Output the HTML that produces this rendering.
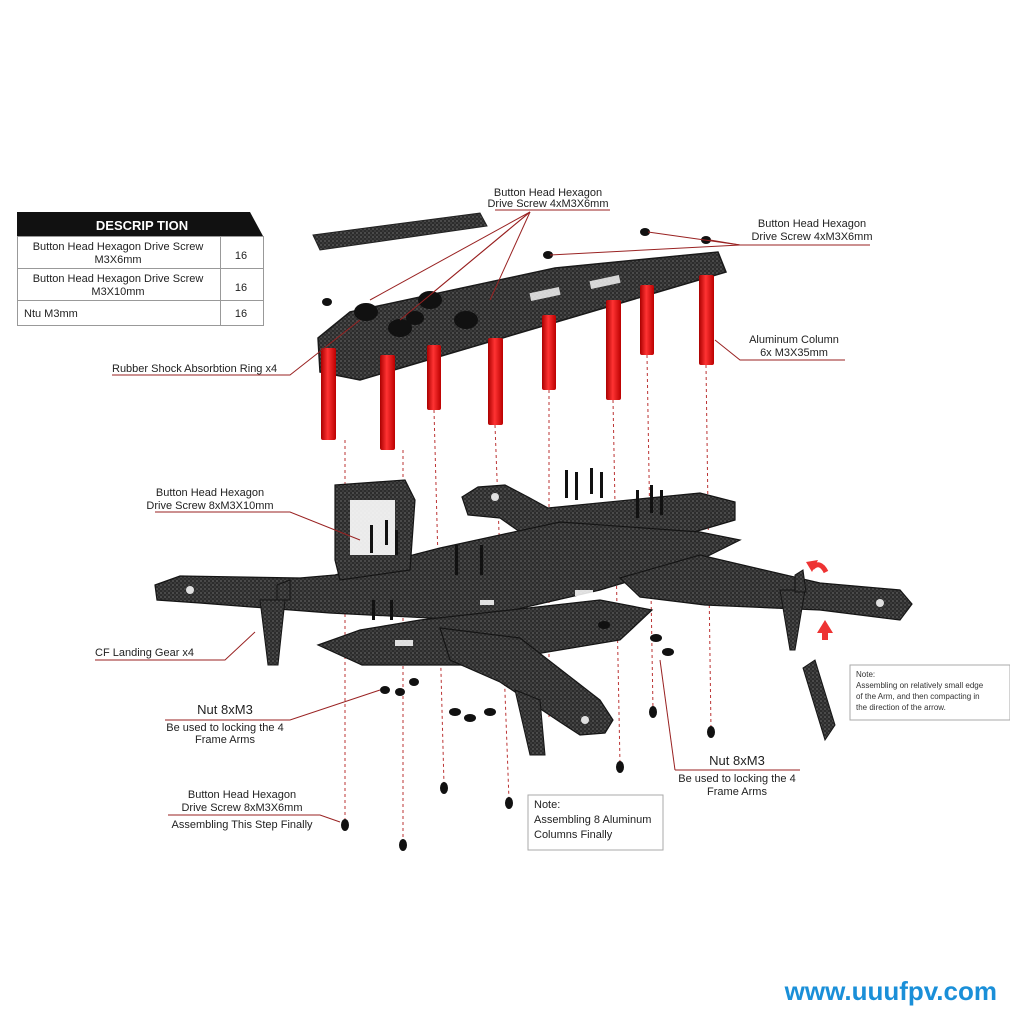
<!DOCTYPE html>
<html><head><meta charset="utf-8"><style>
html,body{margin:0;padding:0;background:#fff;}
svg{display:block;font-family:"Liberation Sans",sans-serif;}
</style></head><body>
<svg width="1010" height="1010" viewBox="0 0 1010 1010" xmlns="http://www.w3.org/2000/svg">
<defs>
<pattern id="cf" width="4" height="4" patternUnits="userSpaceOnUse">
<rect width="4" height="4" fill="#2c2c2c"/><rect width="2" height="2" fill="#4a4a4a"/><rect x="2" y="2" width="2" height="2" fill="#3c3c3c"/>
</pattern>
<linearGradient id="red" x1="0" x2="1"><stop offset="0" stop-color="#a00"/><stop offset=".45" stop-color="#f33"/><stop offset="1" stop-color="#b00"/></linearGradient>
</defs>
<rect width="1010" height="1010" fill="#fff"/>

<polygon points="17,212 250,212 263,236 17,236" fill="#111"/>
<text x="142" y="230" font-size="13" font-weight="bold" fill="#fff" text-anchor="middle">DESCRIP TION</text>
<g stroke="#999" stroke-width="1" fill="none">
<rect x="17.5" y="236.5" width="246" height="89"/>
<line x1="17" y1="268.5" x2="263" y2="268.5"/><line x1="17" y1="300.5" x2="263" y2="300.5"/>
<line x1="220.5" y1="236" x2="220.5" y2="325"/>
</g>
<g font-size="11" fill="#222">
<text x="118" y="250" text-anchor="middle">Button Head Hexagon Drive Screw</text>
<text x="118" y="263" text-anchor="middle">M3X6mm</text>
<text x="118" y="282" text-anchor="middle">Button Head Hexagon Drive Screw</text>
<text x="118" y="295" text-anchor="middle">M3X10mm</text>
<text x="24" y="317">Ntu M3mm</text>
<text x="241" y="259" text-anchor="middle">16</text>
<text x="241" y="291" text-anchor="middle">16</text>
<text x="241" y="317" text-anchor="middle">16</text>
</g>

<polygon points="313,235 480,213 487,226 320,250" fill="url(#cf)" stroke="#222"/>

<g stroke="#b33" stroke-width="1" stroke-dasharray="3,3">
<line x1="345" y1="440" x2="345" y2="820"/>
<line x1="403" y1="450" x2="403" y2="840"/>
<line x1="434" y1="410" x2="444" y2="785"/>
<line x1="495" y1="425" x2="509" y2="800"/>
<line x1="549" y1="390" x2="549" y2="720"/>
<line x1="613" y1="400" x2="620" y2="765"/>
<line x1="647" y1="355" x2="653" y2="710"/>
<line x1="706" y1="365" x2="711" y2="730"/>
</g>

<polygon points="318,338 350,312 555,268 718,252 726,272 360,380 320,372" fill="url(#cf)" stroke="#1a1a1a" stroke-width="1.5"/>
<g fill="#fff" opacity=".8">
<rect x="530" y="290" width="30" height="8" transform="rotate(-12 545 294)"/>
<rect x="590" y="278" width="30" height="8" transform="rotate(-12 605 282)"/>
</g>
<g fill="#111">
<ellipse cx="366" cy="312" rx="12" ry="9"/><ellipse cx="400" cy="328" rx="12" ry="9"/>
<ellipse cx="430" cy="300" rx="12" ry="9"/><ellipse cx="466" cy="320" rx="12" ry="9"/>
<ellipse cx="415" cy="318" rx="9" ry="7"/>
</g>

<g fill="url(#red)">
<rect x="321" y="348" width="15" height="92" rx="2"/>
<rect x="380" y="355" width="15" height="95" rx="2"/>
<rect x="427" y="345" width="14" height="65" rx="2"/>
<rect x="488" y="338" width="15" height="87" rx="2"/>
<rect x="542" y="315" width="14" height="75" rx="2"/>
<rect x="606" y="300" width="15" height="100" rx="2"/>
<rect x="640" y="285" width="14" height="70" rx="2"/>
<rect x="699" y="275" width="15" height="90" rx="2"/>
</g>

<g fill="#111">
<ellipse cx="327" cy="302" rx="5" ry="4"/><ellipse cx="548" cy="255" rx="5" ry="4"/>
<ellipse cx="645" cy="232" rx="5" ry="4"/><ellipse cx="706" cy="240" rx="5" ry="4"/>
</g>

<g fill="url(#cf)" stroke="#151515" stroke-width="1.2">
<polygon points="462,497 478,487 505,485 528,497 548,508 700,493 735,502 735,520 650,545 570,550 520,532 500,518 468,515"/>
<polygon points="155,585 180,576 300,578 335,575 440,548 560,522 700,532 740,540 700,560 600,590 470,620 330,613 200,603 157,600"/>
<polygon points="620,578 700,555 820,583 900,590 912,604 900,620 820,610 705,605 640,597"/>
<polygon points="318,645 360,630 420,620 600,600 652,610 620,640 470,665 362,665"/>
<polygon points="440,628 520,638 600,700 613,720 605,733 580,735 560,722 500,682 450,660"/>
<polygon points="335,485 405,480 415,500 410,570 340,580 335,560"/>
</g>
<rect x="350" y="500" width="45" height="55" fill="#fff" opacity=".9"/>
<g fill="#fff" opacity=".85">
<circle cx="190" cy="590" r="4"/><circle cx="880" cy="603" r="4"/><circle cx="585" cy="720" r="4"/><circle cx="495" cy="497" r="4"/>
<rect x="395" y="640" width="18" height="6"/><rect x="575" y="590" width="18" height="6"/><rect x="480" y="600" width="14" height="5"/>
</g>
<g fill="url(#cf)" stroke="#151515">
<polygon points="260,600 285,600 278,665 268,665"/>
<polygon points="780,590 805,590 795,650 790,650"/>
<polygon points="515,690 540,700 545,755 530,755"/>
<polygon points="803,668 815,660 835,725 825,740"/>
<polygon points="277,585 290,580 290,600 277,600"/>
<polygon points="795,575 803,570 806,592 795,592"/>
</g>
<path d="M812,568 Q820,560 826,572" stroke="#e33" stroke-width="5" fill="none"/>
<polygon points="806,562 818,560 812,572" fill="#e33"/>
<polygon points="825,620 833,633 817,633" fill="#e33"/><rect x="822" y="632" width="6" height="8" fill="#e33"/>

<g fill="#111">
<rect x="565" y="470" width="3" height="28"/><rect x="575" y="472" width="3" height="28"/><rect x="590" y="468" width="3" height="26"/><rect x="600" y="472" width="3" height="26"/>
<rect x="636" y="490" width="3" height="28"/><rect x="650" y="485" width="3" height="28"/><rect x="660" y="490" width="3" height="25"/>
<rect x="370" y="525" width="3" height="28"/><rect x="385" y="520" width="3" height="25"/><rect x="395" y="530" width="3" height="25"/>
<rect x="455" y="545" width="3" height="30"/><rect x="480" y="545" width="3" height="30"/><rect x="372" y="600" width="3" height="20"/><rect x="390" y="600" width="3" height="20"/>
<ellipse cx="385" cy="690" rx="5" ry="4"/><ellipse cx="400" cy="692" rx="5" ry="4"/><ellipse cx="414" cy="682" rx="5" ry="4"/>
<ellipse cx="455" cy="712" rx="6" ry="4"/><ellipse cx="470" cy="718" rx="6" ry="4"/><ellipse cx="490" cy="712" rx="6" ry="4"/>
<ellipse cx="604" cy="625" rx="6" ry="4"/><ellipse cx="656" cy="638" rx="6" ry="4"/><ellipse cx="668" cy="652" rx="6" ry="4"/>
<ellipse cx="345" cy="825" rx="4" ry="6"/><ellipse cx="403" cy="845" rx="4" ry="6"/><ellipse cx="444" cy="788" rx="4" ry="6"/>
<ellipse cx="509" cy="803" rx="4" ry="6"/><ellipse cx="620" cy="767" rx="4" ry="6"/><ellipse cx="653" cy="712" rx="4" ry="6"/><ellipse cx="711" cy="732" rx="4" ry="6"/>
</g>

<g stroke="#922" stroke-width="1" fill="none">
<polyline points="495,210 610,210"/>
<line x1="530" y1="212" x2="370" y2="300"/><line x1="530" y1="212" x2="400" y2="320"/><line x1="530" y1="212" x2="430" y2="295"/><line x1="530" y1="212" x2="490" y2="300"/>
<polyline points="870,245 740,245 710,240"/><line x1="740" y1="245" x2="550" y2="255"/><line x1="740" y1="245" x2="648" y2="232"/>
<polyline points="112,375 290,375 360,320"/>
<polyline points="845,360 740,360 715,340"/>
<polyline points="155,512 290,512 360,540"/>
<polyline points="95,660 225,660 255,632"/>
<polyline points="165,720 290,720 380,690"/>
<polyline points="675,770 800,770"/><line x1="675" y1="770" x2="660" y2="660"/>
<polyline points="168,815 320,815 340,822"/>
</g>
<rect x="528" y="795" width="135" height="55" fill="none" stroke="#aaa"/>
<rect x="850" y="665" width="160" height="55" fill="none" stroke="#aaa"/>

<g font-size="11" fill="#222">
<text x="548" y="196" text-anchor="middle">Button Head Hexagon</text>
<text x="548" y="207" text-anchor="middle">Drive Screw 4xM3X6mm</text>
<text x="812" y="227" text-anchor="middle">Button Head Hexagon</text>
<text x="812" y="240" text-anchor="middle">Drive Screw 4xM3X6mm</text>
<text x="112" y="372">Rubber Shock Absorbtion Ring x4</text>
<text x="794" y="343" text-anchor="middle">Aluminum Column</text>
<text x="794" y="356" text-anchor="middle">6x M3X35mm</text>
<text x="210" y="496" text-anchor="middle">Button Head Hexagon</text>
<text x="210" y="509" text-anchor="middle">Drive Screw 8xM3X10mm</text>
<text x="95" y="656">CF  Landing Gear x4</text>
<text x="225" y="714" text-anchor="middle" font-size="13">Nut  8xM3</text>
<text x="225" y="731" text-anchor="middle">Be used to locking the 4</text>
<text x="225" y="743" text-anchor="middle">Frame Arms</text>
<text x="737" y="765" text-anchor="middle" font-size="13">Nut  8xM3</text>
<text x="737" y="782" text-anchor="middle">Be used to locking the 4</text>
<text x="737" y="795" text-anchor="middle">Frame Arms</text>
<text x="242" y="798" text-anchor="middle">Button Head Hexagon</text>
<text x="242" y="811" text-anchor="middle">Drive Screw 8xM3X6mm</text>
<text x="242" y="828" text-anchor="middle">Assembling This Step Finally</text>
<text x="534" y="808">Note:</text>
<text x="534" y="823">Assembling 8 Aluminum</text>
<text x="534" y="838">Columns Finally</text>
</g>
<g font-size="8" fill="#333">
<text x="856" y="677">Note:</text>
<text x="856" y="688">Assembling on relatively small edge</text>
<text x="856" y="699">of the Arm, and then compacting in</text>
<text x="856" y="710">the direction of the arrow.</text>
</g>
<text x="997" y="1000" text-anchor="end" font-size="26" font-weight="bold" fill="#1a8fd8">www.uuufpv.com</text>
</svg>
</body></html>
